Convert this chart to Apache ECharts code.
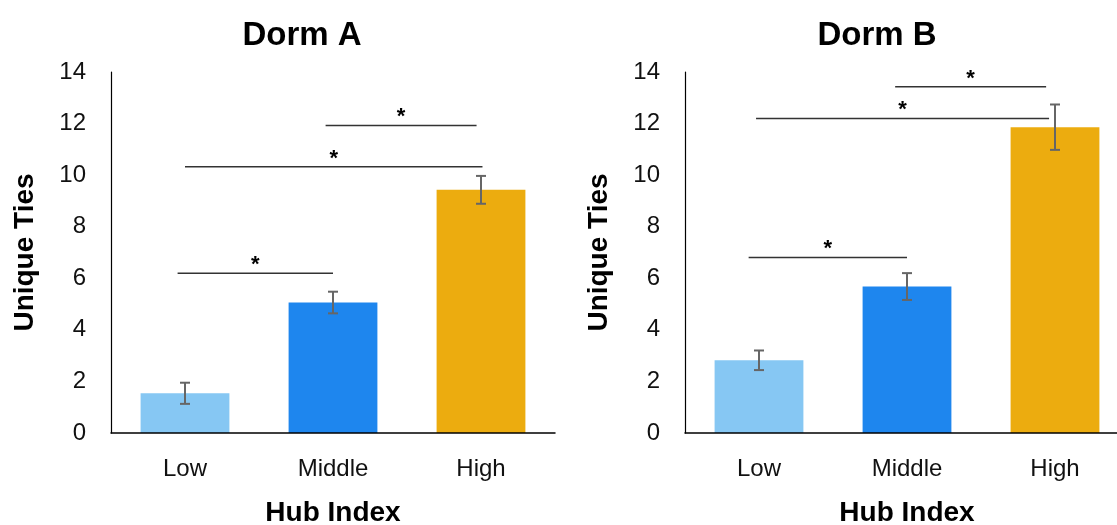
<!DOCTYPE html>
<html>
<head>
<meta charset="utf-8">
<script src="https://cdn.jsdelivr.net/npm/echarts@6/dist/echarts.min.js"></script>
<style>html,body{margin:0;padding:0;background:#fff;}#c{width:1117px;height:525px;}</style>
</head>
<body>
<div id="c"></div>
<script>
// ---- data ----
const categories = ['Low', 'Middle', 'High'];
const yTicks = [0, 2, 4, 6, 8, 10, 12, 14];
const titles = ['Dorm A', 'Dorm B'];
const barColors = ['#86C7F3', '#1E86EE', '#ECAC0F'];

const dormAMeans = [1.54, 5.06, 9.43];
const dormAErrors = [0.41, 0.42, 0.54];
const dormBMeans = [2.82, 5.68, 11.86];
const dormBErrors = [0.38, 0.52, 0.88];

// significance brackets: [xStart, xEnd (category index units), y value]
const dormABrackets = [[-0.05, 1.0, 6.2], [0.0, 2.01, 10.33], [0.95, 1.97, 11.93]];
const dormBBrackets = [[-0.07, 1.0, 6.81], [-0.02, 1.96, 12.2], [0.92, 1.94, 13.43]];
const sigMark = '*';

// ---- chart ----
const FONT = 'Liberation Sans, Arial, Helvetica, sans-serif';
const chart = echarts.init(document.getElementById('c'), null, {renderer: 'canvas'});

const gridDefs = [
  {left: 111, top: 72, width: 444, height: 361, outerBoundsMode: 'none', containLabel: false},
  {left: 685, top: 72, width: 444, height: 361, outerBoundsMode: 'none', containLabel: false}
];
const titleX = [302, 877];

const xAxes = [], yAxes = [], series = [];
const meansList = [dormAMeans, dormBMeans];
const errList = [dormAErrors, dormBErrors];
const brList = [dormABrackets, dormBBrackets];

gridDefs.forEach((g, i) => {
  xAxes.push({
    type: 'category', gridIndex: i, data: categories, z: 5,
    axisLine: {lineStyle: {color: '#000', width: 1.5}},
    axisTick: {show: false},
    axisLabel: {color: '#111', fontSize: 24, fontFamily: FONT, margin: 24},
    name: 'Hub Index', nameLocation: 'middle', nameGap: 66,
    nameTextStyle: {color: '#000', fontSize: 28, fontWeight: 'bold', fontFamily: FONT}
  });
  xAxes.push({
    type: 'value', gridIndex: i, min: -0.5, max: 2.5, show: false
  });
  yAxes.push({
    type: 'value', gridIndex: i, min: 0, max: 14, interval: 2,
    axisLine: {show: true, onZero: false, lineStyle: {color: '#000', width: 1.2}},
    axisTick: {show: false},
    splitLine: {show: false},
    axisLabel: {color: '#111', fontSize: 24, fontFamily: FONT, margin: 25,
      formatter: v => yTicks.indexOf(v) >= 0 ? String(v) : ''},
    name: 'Unique Ties', nameLocation: 'middle', nameGap: 72,
    nameTextStyle: {color: '#000', fontSize: 28, fontWeight: 'bold', fontFamily: FONT}
  });

  series.push({
    type: 'bar', xAxisIndex: i * 2, yAxisIndex: i, barWidth: '60%',
    data: meansList[i].map((v, k) => ({value: v, itemStyle: {color: barColors[k]}})),
    z: 2
  });
  series.push({
    type: 'custom', xAxisIndex: i * 2, yAxisIndex: i, z: 4,
    data: meansList[i].map((v, k) => [k, v, errList[i][k]]),
    encode: {x: 0, y: 1},
    renderItem: (params, api) => {
      const x = api.value(0), m = api.value(1), e = api.value(2);
      const t = api.coord([x, m + e]);
      const b = api.coord([x, m - e]);
      const st = {stroke: '#666', lineWidth: 2};
      const hw = 5;
      return {type: 'group', children: [
        {type: 'line', shape: {x1: t[0], y1: t[1], x2: b[0], y2: b[1]}, style: st},
        {type: 'line', shape: {x1: t[0] - hw, y1: t[1], x2: t[0] + hw, y2: t[1]}, style: st},
        {type: 'line', shape: {x1: b[0] - hw, y1: b[1], x2: b[0] + hw, y2: b[1]}, style: st}
      ]};
    }
  });
  series.push({
    type: 'custom', xAxisIndex: i * 2 + 1, yAxisIndex: i, z: 4,
    data: brList[i],
    encode: {x: [0, 1], y: 2},
    renderItem: (params, api) => {
      const p0 = api.coord([api.value(0), api.value(2)]);
      const p1 = api.coord([api.value(1), api.value(2)]);
      const mx = (p0[0] + p1[0]) / 2;
      return {type: 'group', children: [
        {type: 'line', shape: {x1: p0[0], y1: p0[1], x2: p1[0], y2: p1[1]},
          style: {stroke: '#333', lineWidth: 1.5}},
        {type: 'text', x: mx, y: p0[1] - 8,
          style: {text: sigMark, fill: '#000', font: 'bold 22px ' + FONT,
            align: 'center', verticalAlign: 'middle'}}
      ]};
    }
  });
});

chart.setOption({
  animation: false,
  backgroundColor: '#fff',
  grid: gridDefs,
  xAxis: xAxes,
  yAxis: yAxes,
  series: series,
  graphic: titles.map((t, i) => ({
    type: 'text', x: titleX[i], y: 36,
    style: {text: t, fill: '#000', font: 'bold 33px ' + FONT, align: 'center', verticalAlign: 'middle'}
  }))
});
</script>
</body>
</html>
